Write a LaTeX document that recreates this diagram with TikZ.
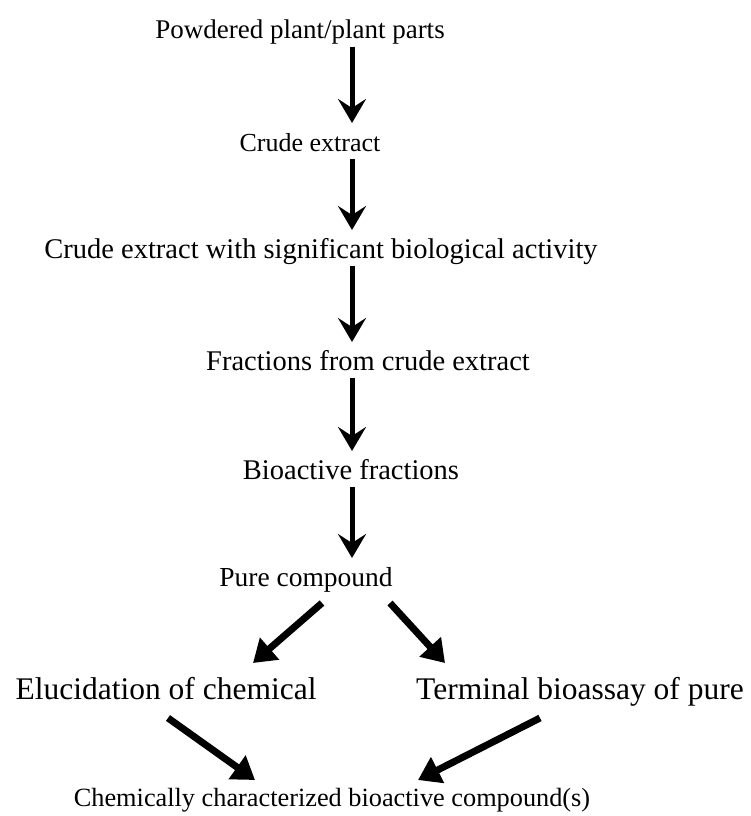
\documentclass[tikz,border=0pt]{standalone}
\usepackage{fontspec}
\setmainfont{Liberation Serif}
\usepackage{tikz}
\usetikzlibrary{arrows.meta, positioning, calc}

\begin{document}
\begin{tikzpicture}[
    x=1pt, y=-1pt,
    stage/.style={inner sep=0pt, anchor=base, font=\fontsize{#1}{#1}\selectfont},
    arrow/.style={-{Stealth[length=24pt, width=28pt, inset=9pt]}, line width=5pt},
    diag/.style={-{Triangle[length=22pt, width=28pt]}, line width=7pt},
]
\useasboundingbox (0,0) rectangle (751,816);

% Stages
\node[stage=27] (powder) at (300,39) {Powdered plant/plant parts};
\node[stage=26] (crude) at (310,151) {Crude extract};
\node[stage=28.5] (active) at (321,258) {Crude extract with significant biological activity};
\node[stage=28.5] (fract) at (368,370) {Fractions from crude extract};
\node[stage=28.5] (bioact) at (351,479) {Bioactive fractions};
\node[stage=27.5] (pure) at (306,586) {Pure compound};
\node[stage=31.5] (eluc) at (166,699) {Elucidation of chemical};
\node[stage=31.5] (term) at (580,699) {Terminal bioassay of pure};
\node[stage=26.3] (chem) at (332,806) {Chemically characterized bioactive compound(s)};

\coordinate (spine) at (352,0);

% Arrows
\draw[arrow] ([yshift=-8pt]powder.base -| spine) -- ([yshift=28pt]crude.base -| spine);
\draw[arrow] ([yshift=-8pt]crude.base -| spine) -- ([yshift=28pt]active.base -| spine);
\draw[arrow] ([yshift=-8pt]active.base -| spine) -- ([yshift=28pt]fract.base -| spine);
\draw[arrow] ([yshift=-8pt]fract.base -| spine) -- ([yshift=28pt]bioact.base -| spine);
\draw[arrow] ([yshift=-8pt]bioact.base -| spine) -- ([yshift=28pt]pure.base -| spine);
\draw[diag] ([shift={(16,17)}]pure.base) -- ([shift={(87,-36)}]eluc.base);
\draw[diag] ([shift={(84,17)}]pure.base) -- ([shift={(-135,-36)}]term.base);
\draw[diag] ([shift={(2,19)}]eluc.base) -- ([shift={(-77,-26)}]chem.base);
\draw[diag] ([shift={(-40,19)}]term.base) -- ([shift={(86,-26)}]chem.base);

\end{tikzpicture}
\end{document}
